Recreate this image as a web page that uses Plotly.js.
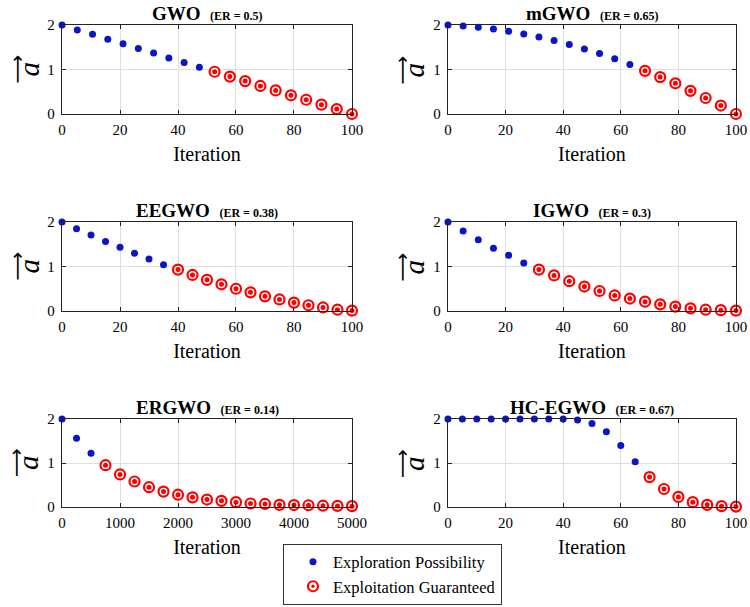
<!DOCTYPE html>
<html>
<head>
<meta charset="utf-8">
<script src="https://cdn.plot.ly/plotly-3.0.1.min.js"></script>
<style>html,body{margin:0;padding:0;background:#fff;overflow:hidden;}</style>
</head>
<body>
<div id="chart" style="width:750px;height:607px;"></div>
<script>
// ---- data ----
const panelNames = ["GWO", "mGWO", "EEGWO", "IGWO", "ERGWO", "HC-EGWO"];
const panelER = ["0.5", "0.65", "0.38", "0.3", "0.14", "0.67"];

const iter20 = [0, 5.26, 10.53, 15.79, 21.05, 26.32, 31.58, 36.84, 42.11, 47.37,
                52.63, 57.89, 63.16, 68.42, 73.68, 78.95, 84.21, 89.47, 94.74, 100];
const iter21 = [0, 5, 10, 15, 20, 25, 30, 35, 40, 45, 50, 55, 60, 65, 70, 75, 80, 85, 90, 95, 100];
const iterERGWO = [0, 250, 500, 750, 1000, 1250, 1500, 1750, 2000, 2250, 2500,
                   2750, 3000, 3250, 3500, 3750, 4000, 4250, 4500, 4750, 5000];

const aGWO   = [2, 1.89, 1.79, 1.68, 1.58, 1.47, 1.37, 1.26, 1.16, 1.05,
                0.95, 0.84, 0.74, 0.63, 0.53, 0.42, 0.32, 0.21, 0.11, 0];
const aMGWO  = [2, 1.98, 1.95, 1.91, 1.86, 1.80, 1.73, 1.65, 1.56, 1.46,
                1.36, 1.24, 1.11, 0.97, 0.83, 0.69, 0.52, 0.36, 0.19, 0];
const aEEGWO = [2, 1.85, 1.71, 1.56, 1.43, 1.30, 1.17, 1.04, 0.93, 0.81, 0.70,
                0.60, 0.50, 0.42, 0.33, 0.26, 0.19, 0.13, 0.08, 0.03, 0.01];
const aIGWO  = [2, 1.80, 1.60, 1.41, 1.25, 1.08, 0.93, 0.80, 0.67, 0.55,
                0.45, 0.35, 0.28, 0.21, 0.15, 0.10, 0.06, 0.03, 0.02, 0.01];
const aERGWO = [2, 1.56, 1.22, 0.95, 0.74, 0.58, 0.45, 0.35, 0.28, 0.22, 0.17,
                0.14, 0.11, 0.08, 0.07, 0.05, 0.045, 0.04, 0.03, 0.025, 0.02];
const aHCEGWO = [2, 2, 2, 2, 2, 2, 2, 2, 2, 1.98, 1.90,
                 1.71, 1.40, 1.03, 0.68, 0.41, 0.23, 0.11, 0.05, 0.02, 0.01];

const panelX = [iter20, iter20, iter21, iter20, iterERGWO, iter21];
const panelA = [aGWO, aMGWO, aEEGWO, aIGWO, aERGWO, aHCEGWO];
const nExplore = [10, 13, 8, 6, 3, 14];   // points where exploration is possible

const xMax = [100, 100, 100, 100, 5000, 100];
const xStep = [20, 20, 20, 20, 1000, 20];

const legendNames = ["Exploration Possibility", "Exploitation Guaranteed"];

// ---- layout helpers ----
const FONT = "Liberation Serif";
const BLUE = "#0a14c8";
const RED = "#ff0000";
const colDom = [[0.0827, 0.4693], [0.5973, 0.9813]];
const rowDom = [[0.8122, 0.9588], [0.4876, 0.6343], [0.1647, 0.3097]];

const traces = [];
const layout = {
  width: 750, height: 607,
  margin: {l: 0, r: 0, t: 0, b: 0},
  paper_bgcolor: "#fff", plot_bgcolor: "#fff",
  font: {family: FONT, color: "#000"},
  showlegend: true,
  legend: {
    x: 0.3773, y: 0.004, xanchor: "left", yanchor: "bottom",
    bordercolor: "#333", borderwidth: 1, bgcolor: "#fff",
    font: {family: FONT, size: 16.5, color: "#000"},
    tracegroupgap: 0, indentation: 9
  },
  annotations: []
};

for (let i = 0; i < 6; i++) {
  const row = Math.floor(i / 2), col = i % 2;
  const sfx = i === 0 ? "" : String(i + 1);
  const xa = "x" + sfx, ya = "y" + sfx;
  const xs = panelX[i], as = panelA[i], n = nExplore[i];
  const ticks = [];
  for (let t = 0; t <= xMax[i]; t += xStep[i]) ticks.push(t);

  layout["xaxis" + sfx] = {
    domain: colDom[col], anchor: ya, range: [0, xMax[i]],
    tickvals: ticks, ticks: "inside", ticklen: 4, tickcolor: "#222",
    showline: true, linecolor: "#222", linewidth: 1.3, mirror: "ticks",
    showgrid: true, gridcolor: "#dedede", gridwidth: 1, zeroline: false,
    tickfont: {family: FONT, size: 15, color: "#000"}, ticklabelstandoff: 2,
    title: {text: "Iteration", font: {family: FONT, size: 20, color: "#000"}, standoff: 9},
    automargin: false, fixedrange: true
  };
  layout["yaxis" + sfx] = {
    domain: rowDom[row], anchor: xa, range: [0, 2],
    tickvals: [0, 1, 2], ticks: "inside", ticklen: 4, tickcolor: "#222",
    showline: true, linecolor: "#222", linewidth: 1.3, mirror: "ticks",
    showgrid: true, gridcolor: "#dedede", gridwidth: 1, zeroline: false,
    tickfont: {family: FONT, size: 15, color: "#000"}, ticklabelstandoff: 3,
    automargin: false, fixedrange: true
  };

  // panel title
  layout.annotations.push({
    xref: xa + " domain", yref: ya + " domain", x: 0.5, y: 1,
    xanchor: "center", yanchor: "bottom", yshift: -1, showarrow: false,
    text: "<b>" + panelNames[i] + "</b>\u00A0\u00A0<b><span style='font-size:12px'>(ER = " + panelER[i] + ")</span></b>",
    font: {family: FONT, size: 19, color: "#000"}
  });
  // y-axis label: vector a (letter + arrow, rotated)
  layout.annotations.push({
    xref: xa + " domain", yref: ya + " domain", x: 0, y: 0.5,
    xanchor: "center", yanchor: "middle", xshift: -34, showarrow: false,
    textangle: -90, text: "<i>a</i>",
    font: {family: FONT, size: 29, color: "#000"}
  });
  layout.annotations.push({
    xref: xa + " domain", yref: ya + " domain", x: 0, y: 0.5,
    xanchor: "center", yanchor: "middle", xshift: -46, showarrow: false,
    textangle: -90, text: "\u27F6",
    font: {family: "DejaVu Sans", size: 20, color: "#000"}
  });

  // exploration points
  traces.push({
    type: "scatter", mode: "markers", xaxis: xa, yaxis: ya, cliponaxis: false,
    x: xs.slice(0, n), y: as.slice(0, n),
    name: legendNames[0], legendgroup: "exp", showlegend: i === 0,
    marker: {color: BLUE, size: 7, line: {width: 0}},
    hoverinfo: "x+y"
  });
  // exploitation points: white-filled ring with centre dot
  traces.push({
    type: "scatter", mode: "markers", xaxis: xa, yaxis: ya, cliponaxis: false,
    x: xs.slice(n), y: as.slice(n),
    name: legendNames[1], legendgroup: "expl", showlegend: i === 0,
    marker: {symbol: "circle-dot", color: "#fff", size: 10, line: {color: RED, width: 2.2}},
    hoverinfo: "x+y"
  });
  traces.push({
    type: "scatter", mode: "markers", xaxis: xa, yaxis: ya, cliponaxis: false,
    x: xs.slice(n), y: as.slice(n),
    showlegend: false, legendgroup: "expl",
    marker: {color: RED, size: 5, line: {width: 0}},
    hoverinfo: "skip"
  });
}

Plotly.newPlot("chart", traces, layout, {staticPlot: true, displayModeBar: false});
</script>
</body>
</html>
